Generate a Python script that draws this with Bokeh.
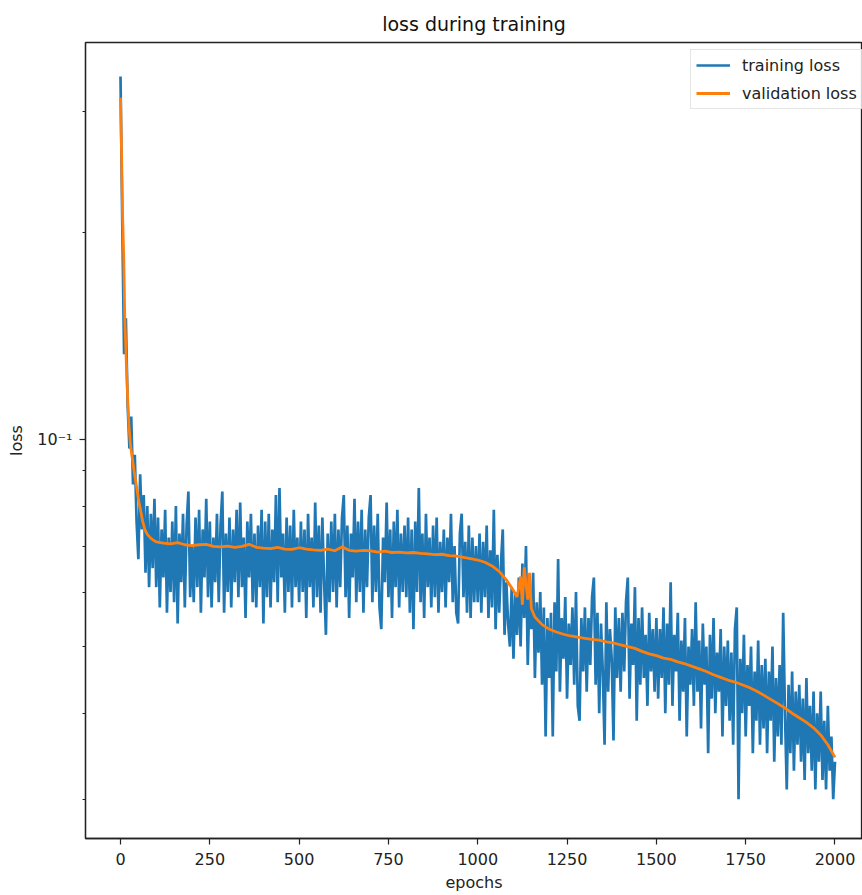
from bokeh.plotting import figure
from bokeh.models import FixedTicker, Range1d
from bokeh.embed import file_html
from bokeh.resources import INLINE

FONT = "DejaVu Sans"

# ---------------- data ----------------
# training loss, one value every 5 epochs (0 .. 2000)
train_loss = [
    0.337, 0.205, 0.133, 0.150, 0.112, 0.097, 0.108, 0.086, 0.095, 0.076, 0.067, 0.089, 0.074, 0.083, 0.064, 0.080, 0.061, 0.078, 0.065, 0.082,
    0.061, 0.077, 0.057, 0.074, 0.063, 0.079, 0.056, 0.072, 0.060, 0.076, 0.058, 0.080, 0.054, 0.073, 0.062, 0.078, 0.057, 0.075, 0.084, 0.059,
    0.070, 0.058, 0.077, 0.061, 0.079, 0.056, 0.074, 0.063, 0.082, 0.059, 0.076, 0.057, 0.072, 0.062, 0.078, 0.058, 0.075, 0.084, 0.056, 0.073,
    0.060, 0.077, 0.057, 0.074, 0.062, 0.079, 0.059, 0.081, 0.061, 0.072, 0.055, 0.076, 0.063, 0.078, 0.058, 0.073, 0.057, 0.075, 0.061, 0.079,
    0.054, 0.076, 0.059, 0.078, 0.057, 0.074, 0.062, 0.083, 0.058, 0.085, 0.063, 0.073, 0.056, 0.077, 0.060, 0.075, 0.057, 0.079, 0.061, 0.072,
    0.058, 0.076, 0.060, 0.074, 0.055, 0.078, 0.061, 0.072, 0.057, 0.081, 0.059, 0.075, 0.056, 0.077, 0.062, 0.052, 0.073, 0.058, 0.076, 0.060,
    0.078, 0.057, 0.074, 0.061, 0.077, 0.083, 0.059, 0.075, 0.055, 0.073, 0.063, 0.082, 0.058, 0.076, 0.060, 0.079, 0.056, 0.074, 0.061, 0.077,
    0.083, 0.058, 0.075, 0.060, 0.078, 0.057, 0.053, 0.072, 0.062, 0.081, 0.059, 0.074, 0.055, 0.076, 0.061, 0.079, 0.057, 0.073, 0.060, 0.075,
    0.059, 0.077, 0.056, 0.074, 0.053, 0.076, 0.060, 0.085, 0.058, 0.073, 0.055, 0.078, 0.061, 0.072, 0.057, 0.075, 0.059, 0.077, 0.056, 0.071,
    0.060, 0.074, 0.057, 0.072, 0.062, 0.078, 0.058, 0.070, 0.056, 0.054, 0.073, 0.078, 0.059, 0.071, 0.056, 0.075, 0.055, 0.072, 0.058, 0.070,
    0.058, 0.073, 0.056, 0.071, 0.059, 0.075, 0.055, 0.069, 0.057, 0.079, 0.053, 0.068, 0.056, 0.066, 0.074, 0.052, 0.062, 0.054, 0.050, 0.061,
    0.048, 0.060, 0.052, 0.063, 0.050, 0.066, 0.055, 0.070, 0.047, 0.061, 0.053, 0.064, 0.045, 0.058, 0.049, 0.060, 0.044, 0.057, 0.037, 0.055,
    0.045, 0.056, 0.037, 0.058, 0.046, 0.067, 0.043, 0.055, 0.048, 0.059, 0.042, 0.054, 0.047, 0.057, 0.044, 0.060, 0.041, 0.039, 0.055, 0.046,
    0.057, 0.043, 0.055, 0.047, 0.059, 0.063, 0.044, 0.056, 0.040, 0.054, 0.046, 0.036, 0.058, 0.043, 0.053, 0.048, 0.0365, 0.057, 0.045, 0.055,
    0.043, 0.056, 0.046, 0.058, 0.063, 0.042, 0.054, 0.047, 0.061, 0.039, 0.055, 0.044, 0.057, 0.045, 0.052, 0.041, 0.056, 0.046, 0.053, 0.043,
    0.055, 0.042, 0.053, 0.045, 0.057, 0.040, 0.054, 0.044, 0.062, 0.041, 0.052, 0.046, 0.056, 0.039, 0.051, 0.043, 0.055, 0.037, 0.050, 0.044,
    0.053, 0.041, 0.058, 0.043, 0.051, 0.038, 0.054, 0.044, 0.050, 0.035, 0.052, 0.042, 0.055, 0.040, 0.049, 0.043, 0.053, 0.037, 0.050, 0.041,
    0.051, 0.039, 0.049, 0.036, 0.053, 0.057, 0.030, 0.048, 0.040, 0.052, 0.037, 0.047, 0.041, 0.050, 0.035, 0.046, 0.039, 0.051, 0.036, 0.047,
    0.038, 0.048, 0.035, 0.046, 0.039, 0.050, 0.034, 0.045, 0.037, 0.047, 0.036, 0.056, 0.040, 0.031, 0.044, 0.035, 0.046, 0.033, 0.043, 0.036,
    0.044, 0.034, 0.042, 0.032, 0.045, 0.035, 0.041, 0.033, 0.043, 0.031, 0.040, 0.034, 0.043, 0.032, 0.039, 0.031, 0.041, 0.033, 0.037, 0.030,
    0.034,
]
train_step = 5
train_epochs = [train_step * i for i in range(len(train_loss))]

val_epochs = [
    0, 3, 6, 9, 12, 15, 18, 21, 24, 28, 33, 38, 44, 50, 56, 62, 68, 75, 85, 95,
    100, 120, 140, 160, 180, 200, 220, 240, 260, 280, 300, 320, 340, 360, 380,
    400, 420, 440, 460, 480, 500, 520, 540, 560, 580, 600, 620, 640, 660, 680,
    700, 720, 740, 760, 780, 800, 820, 840, 860, 880, 900, 920, 940, 960, 980,
    1000, 1020, 1040, 1060, 1080, 1100, 1110, 1120, 1125, 1130, 1140, 1145, 1150, 1160, 1180,
    1200, 1220, 1240, 1260, 1280, 1300, 1320, 1340, 1360, 1380,
    1400, 1420, 1440, 1460, 1480, 1500, 1520, 1540, 1560, 1580,
    1600, 1620, 1640, 1660, 1680, 1700, 1720, 1740, 1760, 1780,
    1800, 1820, 1840, 1860, 1880, 1900, 1920, 1940, 1960, 1980, 2000,
]
val_loss = [
    0.314, 0.260, 0.210, 0.185, 0.150, 0.135, 0.122, 0.112, 0.104, 0.098, 0.094, 0.090, 0.086, 0.082, 0.079, 0.076, 0.074, 0.0728, 0.0718, 0.0712,
    0.0710, 0.0707, 0.0705, 0.0708, 0.0703, 0.0701, 0.0703, 0.0704, 0.0699, 0.0698, 0.0700, 0.0697, 0.0699, 0.0704, 0.0697,
    0.0695, 0.0694, 0.0697, 0.0693, 0.0692, 0.0696, 0.0693, 0.0691, 0.0690, 0.0693, 0.0689, 0.0698, 0.0690, 0.0688, 0.0690,
    0.0689, 0.0686, 0.0688, 0.0685, 0.0686, 0.0684, 0.0685, 0.0683, 0.0682, 0.0680, 0.0681, 0.0678, 0.0677, 0.0674, 0.0671,
    0.0668, 0.0663, 0.0655, 0.0643, 0.0625, 0.0603, 0.0590, 0.0632, 0.0575, 0.0652, 0.0585, 0.0640, 0.0568, 0.0552, 0.0538,
    0.0530, 0.0525, 0.0521, 0.0518, 0.0516, 0.0514, 0.0512, 0.0511, 0.0508, 0.0506,
    0.0503, 0.0500, 0.0497, 0.0492, 0.0488, 0.0485, 0.0481, 0.0479, 0.0475, 0.0472,
    0.0468, 0.0464, 0.0460, 0.0455, 0.0451, 0.0447, 0.0444, 0.0440, 0.0436, 0.0431,
    0.0425, 0.0419, 0.0413, 0.0407, 0.0400, 0.0394, 0.0388, 0.0381, 0.0372, 0.0360, 0.0345,
]

x_ticks = [0, 250, 500, 750, 1000, 1250, 1500, 1750, 2000]
y_major_ticks = [0.1]
y_major_labels = {0.1: "10\u207b\u00b9"}
y_minor_ticks = [0.03, 0.04, 0.05, 0.06, 0.07, 0.08, 0.09, 0.2, 0.3]

series_names = ["training loss", "validation loss"]
series_colors = ["#1f77b4", "#ff7f0e"]

# ---------------- figure ----------------
p = figure(
    frame_width=777, frame_height=796,
    y_axis_type="log",
    x_range=Range1d(-98, 2077), y_range=Range1d(0.0263, 0.3776),
    output_backend="svg", toolbar_location=None,
    title="loss during training",
    min_border_left=85, min_border_top=42, min_border_bottom=50, min_border_right=0,
    background_fill_color="white", border_fill_color="white",
)

p.line(train_epochs, train_loss, color=series_colors[0], line_width=2.7,
       legend_label=series_names[0])
p.line(val_epochs, val_loss, color=series_colors[1], line_width=2.8,
       legend_label=series_names[1])

p.xgrid.visible = False
p.ygrid.visible = False
p.outline_line_color = "#222222"
p.outline_line_width = 1.3

p.title.align = "center"
p.title.text_font = FONT
p.title.text_font_size = "19px"
p.title.text_font_style = "normal"
p.title.text_color = "#111111"
p.title.standoff = 15

p.xaxis.ticker = FixedTicker(ticks=x_ticks, minor_ticks=[])
p.yaxis.ticker = FixedTicker(ticks=y_major_ticks, minor_ticks=y_minor_ticks)
p.yaxis.major_label_overrides = y_major_labels

for ax in (p.xaxis, p.yaxis):
    ax.axis_line_color = "#222222"
    ax.axis_line_width = 1.3
    ax.major_tick_line_color = "#222222"
    ax.minor_tick_line_color = "#222222"
    ax.major_tick_line_width = 1.2
    ax.minor_tick_line_width = 1.0
    ax.major_tick_in = 0
    ax.major_tick_out = 6
    ax.minor_tick_in = 0
    ax.minor_tick_out = 3
    ax.major_label_text_font = FONT
    ax.major_label_text_font_size = "16px"
    ax.major_label_text_color = "#222222"
    ax.axis_label_text_font = FONT
    ax.axis_label_text_font_size = "16px"
    ax.axis_label_text_font_style = "normal"
    ax.axis_label_text_color = "#222222"

p.xaxis.axis_label = "epochs"
p.yaxis.axis_label = "loss"
p.xaxis.major_label_standoff = 8
p.yaxis.major_label_standoff = 7
p.xaxis.axis_label_standoff = 5
p.yaxis.axis_label_standoff = 8

lg = p.legend[0]
lg.location = (605, 729)
lg.label_text_font = FONT
lg.label_text_font_size = "16px"
lg.label_text_color = "#222222"
lg.glyph_width = 34
lg.glyph_height = 20
lg.label_height = 20
lg.label_standoff = 12
lg.padding = 5
lg.spacing = 8
lg.border_line_color = "#cccccc"
lg.border_line_width = 1
lg.background_fill_color = "white"
lg.background_fill_alpha = 0.8

open("out.html", "w").write(file_html(p, INLINE))
